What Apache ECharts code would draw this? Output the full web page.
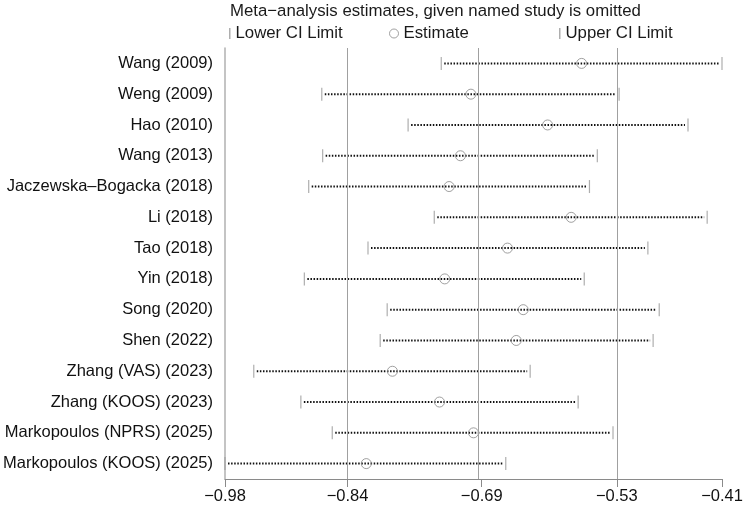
<!DOCTYPE html>
<html>
<head>
<meta charset="utf-8">
<script src="https://cdn.jsdelivr.net/npm/echarts@6/dist/echarts.min.js"></script>
<style>
html,body{margin:0;padding:0;background:#fff;}
#chart{width:744px;height:506px;}
</style>
</head>
<body>
<div id="chart"></div>
<script>
const studies = ['Wang (2009)','Weng (2009)','Hao (2010)','Wang (2013)','Jaczewska–Bogacka (2018)','Li (2018)','Tao (2018)','Yin (2018)','Song (2020)','Shen (2022)','Zhang (VAS) (2023)','Zhang (KOOS) (2023)','Markopoulos (NPRS) (2025)','Markopoulos (KOOS) (2025)'];
const lowerCI   = [-0.732,-0.869,-0.770,-0.868,-0.884,-0.740,-0.816,-0.889,-0.794,-0.802,-0.947,-0.893,-0.857,-0.980];
const estimates = [-0.571,-0.698,-0.610,-0.710,-0.723,-0.583,-0.656,-0.728,-0.638,-0.646,-0.788,-0.734,-0.695,-0.818];
const upperCI   = [-0.410,-0.528,-0.449,-0.553,-0.562,-0.427,-0.495,-0.568,-0.482,-0.489,-0.630,-0.575,-0.535,-0.658];
const overallLower = -0.8394, overallEstimate = -0.6856, overallUpper = -0.5306;
const axisMin = -0.98, axisMax = -0.41;
const tickValues = [axisMin, overallLower, overallEstimate, overallUpper, axisMax];
const tickLabels = ['−0.98','−0.84','−0.69','−0.53','−0.41'];
const titleText = 'Meta−analysis estimates, given named study is omitted';

const FONT = '"Liberation Sans", Arial, Helvetica, sans-serif';
const FS = 16.5;
const chart = echarts.init(document.getElementById('chart'), null, {renderer:'canvas'});

function labelFor(v){
  for (let i=0;i<tickValues.length;i++){ if (Math.abs(tickValues[i]-v) < 1e-6) return tickLabels[i]; }
  return '';
}

const option = {
  animation:false,
  backgroundColor:'#fff',
  textStyle:{fontFamily:FONT},
  title:{text:titleText,left:225,top:-2,textStyle:{fontSize:16.8,fontWeight:'normal',color:'#1a1a1a',fontFamily:FONT}},
  legend:[
    {left:224,top:20,data:[{name:'Lower CI Limit',icon:'rect',itemStyle:{color:'#9a9a9a'}}],itemWidth:1.5,itemHeight:11,textStyle:{fontSize:16.8,color:'#1a1a1a',fontFamily:FONT}},
    {left:384,top:20,data:[{name:'Estimate',icon:'circle',itemStyle:{color:'rgba(0,0,0,0)',borderColor:'#8a8a8a',borderWidth:1}}],itemWidth:9,itemHeight:9,textStyle:{fontSize:16.8,color:'#1a1a1a',fontFamily:FONT}},
    {left:554,top:20,data:[{name:'Upper CI Limit',icon:'rect',itemStyle:{color:'#9a9a9a'}}],itemWidth:1.5,itemHeight:11,textStyle:{fontSize:16.8,color:'#1a1a1a',fontFamily:FONT}}
  ],
  grid:{left:225,right:22,top:48,bottom:27,containLabel:false,outerBoundsMode:'none'},
  xAxis:{
    type:'value',min:axisMin,max:axisMax,
    axisLine:{show:true,lineStyle:{color:'#8a8a8a',width:1}},
    splitLine:{show:false},
    axisTick:{show:true,length:8,customValues:tickValues,lineStyle:{color:'#8a8a8a'}},
    axisLabel:{customValues:tickValues,formatter:labelFor,fontSize:FS,color:'#111',margin:9,fontFamily:FONT}
  },
  yAxis:{
    type:'category',data:studies,inverse:true,boundaryGap:true,
    axisLine:{show:true,lineStyle:{color:'#b0b0b0',width:1.5}},
    axisTick:{show:false},
    splitLine:{show:false},
    axisLabel:{fontSize:FS,color:'#111',margin:12,fontFamily:FONT}
  },
  series:[
    {
      type:'custom',name:'CI',silent:true,z:3,
      data:lowerCI.map((v,i)=>[v,studies[i],upperCI[i]]),
      encode:{x:[0,2],y:1},
      renderItem:function(params,api){
        const a = api.coord([api.value(0),api.value(1)]);
        const b = api.coord([api.value(2),api.value(1)]);
        return {type:'line',shape:{x1:a[0]+3,y1:a[1],x2:b[0]-3,y2:b[1]},
          style:{stroke:'#111',lineWidth:2,lineDash:[1.5,1.6]}};
      }
    },
    {type:'scatter',name:'Lower CI Limit',symbol:'rect',symbolSize:[1.2,13],z:4,
      itemStyle:{color:'#9a9a9a'},data:lowerCI.map((v,i)=>[v,studies[i]])},
    {type:'scatter',name:'Estimate',symbol:'circle',symbolSize:10,z:4,
      itemStyle:{color:'rgba(0,0,0,0)',borderColor:'#888',borderWidth:1},data:estimates.map((v,i)=>[v,studies[i]]),
      markLine:{
        silent:true,symbol:['none','none'],label:{show:false},
        lineStyle:{color:'#a0a0a0',width:1,type:'solid'},
        data:[{xAxis:overallLower},{xAxis:overallEstimate},{xAxis:overallUpper}]
      }},
    {type:'scatter',name:'Upper CI Limit',symbol:'rect',symbolSize:[1.2,13],z:4,
      itemStyle:{color:'#9a9a9a'},data:upperCI.map((v,i)=>[v,studies[i]])}
  ]
};
chart.setOption(option);
</script>
</body>
</html>
